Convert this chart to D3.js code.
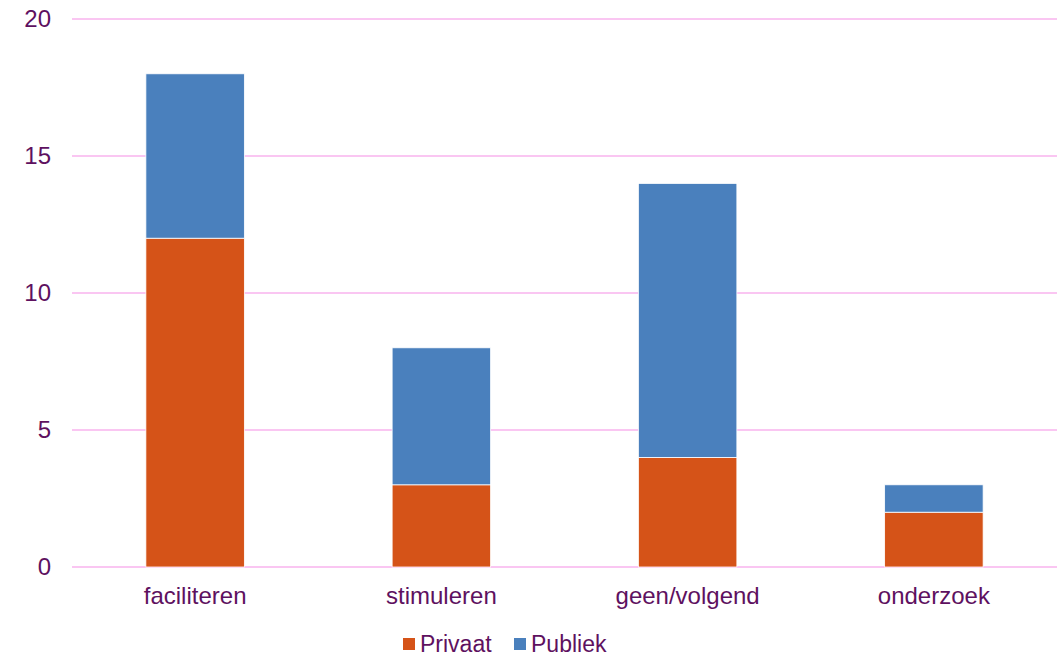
<!DOCTYPE html>
<html>
<head>
<meta charset="utf-8">
<script src="https://cdn.jsdelivr.net/npm/d3@7"></script>
<style>
  body { margin: 0; background: #fff; }
  text { font-family: "Liberation Sans", Arial, sans-serif; fill: #5e1160; }
</style>
</head>
<body>
<div id="chart"></div>
<script>
// Data
const categories = ["faciliteren", "stimuleren", "geen/volgend", "onderzoek"];
const privaat = [12, 3, 4, 2];
const publiek = [6, 5, 10, 1];
const seriesNames = ["Privaat", "Publiek"];
const yTicks = [0, 5, 10, 15, 20];

const colors = { Privaat: "#d55318", Publiek: "#4a80bd" };

const W = 1061, H = 657;
const margin = { top: 19, right: 4, bottom: 90, left: 72 };

const svg = d3.select("#chart").append("svg")
    .attr("width", W)
    .attr("height", H);

const x = d3.scaleBand()
    .domain(categories)
    .range([margin.left, W - margin.right])
    .paddingInner(0.6)
    .paddingOuter(0.3);

const y = d3.scaleLinear()
    .domain([0, 20])
    .range([H - margin.bottom, margin.top]);

// Gridlines
svg.append("g")
    .selectAll("line")
    .data(yTicks)
    .enter().append("line")
    .attr("x1", margin.left)
    .attr("x2", W - margin.right)
    .attr("y1", d => y(d))
    .attr("y2", d => y(d))
    .attr("stroke", "#fac6f2")
    .attr("stroke-width", 2);

// Y labels
svg.append("g")
    .selectAll("text")
    .data(yTicks)
    .enter().append("text")
    .attr("x", 51)
    .attr("y", d => y(d))
    .attr("dy", "0.35em")
    .attr("text-anchor", "end")
    .style("font-size", "24px")
    .text(d => d);

// Stacked bars
const rows = categories.map((c, i) => ({ cat: c, Privaat: privaat[i], Publiek: publiek[i] }));
const stack = d3.stack().keys(seriesNames)(rows);

svg.append("g")
    .selectAll("g")
    .data(stack)
    .enter().append("g")
    .attr("fill", d => colors[d.key])
    .selectAll("rect")
    .data(d => d)
    .enter().append("rect")
    .attr("x", d => x(d.data.cat))
    .attr("width", x.bandwidth())
    .attr("y", d => y(d[1]))
    .attr("height", d => y(d[0]) - y(d[1]))
    .attr("stroke", "#fff")
    .attr("stroke-width", 0.8);

// X labels
svg.append("g")
    .selectAll("text")
    .data(categories)
    .enter().append("text")
    .attr("x", d => x(d) + x.bandwidth() / 2)
    .attr("y", 604)
    .attr("text-anchor", "middle")
    .style("font-size", "24px")
    .text(d => d);

// Legend
const legendX = [403, 514];
const legend = svg.append("g")
    .selectAll("g")
    .data(seriesNames)
    .enter().append("g")
    .attr("transform", (d, i) => `translate(${legendX[i]},638)`);

legend.append("rect")
    .attr("width", 12)
    .attr("height", 12)
    .attr("fill", d => colors[d]);

legend.append("text")
    .attr("x", 17)
    .attr("y", 6)
    .attr("dy", "0.35em")
    .style("font-size", "23px")
    .text(d => d);
</script>
</body>
</html>
